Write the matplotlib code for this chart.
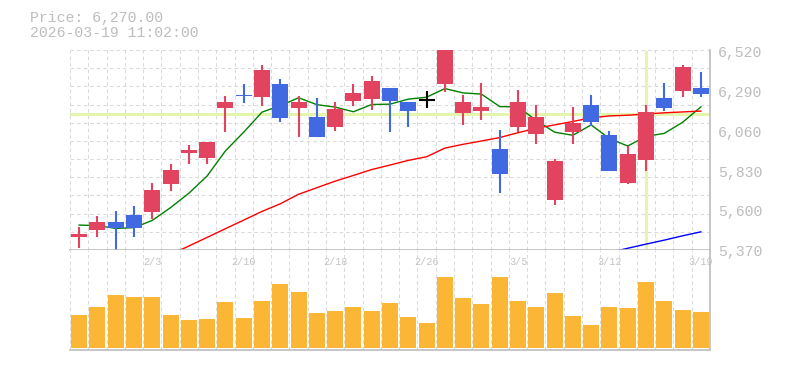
import numpy as np
import matplotlib
matplotlib.use('Agg')
import matplotlib.pyplot as plt
import matplotlib.transforms as mtransforms

# daily candles, 2026-01-28 .. 2026-03-19
dates = ['1/28', '1/29', '1/30', '2/2', '2/3', '2/4', '2/5', '2/6', '2/9', '2/10',
         '2/12', '2/13', '2/16', '2/17', '2/18', '2/19', '2/20', '2/24', '2/25', '2/26',
         '2/27', '3/2', '3/3', '3/4', '3/5', '3/6', '3/9', '3/10', '3/11', '3/12',
         '3/13', '3/16', '3/17', '3/18', '3/19']
opens = [5443, 5482, 5528, 5571, 5586, 5748, 5929, 5900, 6189, 6262,
         6253, 6326, 6189, 6135, 6079, 6228, 6239, 6303, 6222, 6234,
         6328, 6160, 6172, 5950, 6079, 6039, 5656, 6050, 6205, 6031,
         5756, 5889, 6245, 6287, 6303]
highs = [5498, 5563, 5592, 5621, 5756, 5864, 5974, 5991, 6257, 6326,
         6436, 6355, 6257, 6245, 6222, 6326, 6372, 6303, 6222, 6286,
         6523, 6262, 6332, 6060, 6291, 6205, 5893, 6193, 6262, 6054,
         5968, 6205, 6332, 6436, 6395]
lows = [5376, 5443, 5366, 5443, 5546, 5709, 5864, 5864, 6050, 6218,
        6199, 6108, 6021, 6021, 6056, 6199, 6176, 6050, 6079, 6187,
        6282, 6091, 6118, 5698, 6050, 5981, 5628, 5981, 6083, 5825,
        5750, 5825, 6172, 6253, 6253]
closes = [5459, 5528, 5495, 5495, 5713, 5829, 5945, 5991, 6222, 6255,
          6407, 6131, 6222, 6021, 6182, 6274, 6343, 6228, 6170, 6234,
          6523, 6222, 6193, 5808, 6222, 6135, 5883, 6102, 6108, 5825,
          5921, 6164, 6189, 6424, 6270]
# volume, thousand shares
volumes = [98, 122, 158, 152, 152, 98, 83, 86, 137, 89,
           140, 191, 167, 104, 110, 122, 110, 134, 92, 74,
           212, 149, 131, 212, 140, 122, 164, 95, 68, 122,
           119, 197, 140, 113, 107]

nan = np.nan
ma5 = [5511, 5508, 5492, 5496, 5538, 5612, 5695, 5795, 5940, 6048,
       6164, 6201, 6247, 6207, 6193, 6166, 6208, 6210, 6239, 6250,
       6300, 6275, 6268, 6196, 6194, 6116, 6048, 6030, 6090, 6011,
       5968, 6024, 6041, 6105, 6194]
ma25 = [nan, nan, nan, nan, nan, 5342, 5390, 5440, 5490, 5540,
        5590, 5634, 5689, 5727, 5765, 5798, 5832, 5858, 5885, 5906,
        5956, 5978, 5997, 6017, 6045, 6071, 6090, 6110, 6131, 6142,
        6146, 6153, 6160, 6165, 6170]
ma75 = [nan] * 29 + [5353, 5377, 5401, 5424, 5449, 5472]

price_ticks = [5370, 5600, 5830, 6060, 6290, 6520]
cursor_price = 6152
cursor_idx = 31
stamp = '2026-03-19 11:02:00'

UP = '#e2435f'
DOWN = '#4169e1'
GRID = '#dadada'
AXIS = '#bcbcbc'
TEXT = '#bdbdbd'
CROSS = '#e4f5ae'
FONT = 'Liberation Mono'

fig = plt.figure(figsize=(7.85, 3.7), dpi=100)
ax = fig.add_axes([70 / 785, 120 / 370, 640 / 785, 200 / 370])
axv = fig.add_axes([70 / 785, 20 / 370, 640 / 785, 100 / 370])

x = np.arange(len(dates))
lo, hi = 5367, 6523
for a in (ax, axv):
    a.set_xlim(-0.5, len(dates) - 0.5)
    a.set_xticks([])
    a.set_yticks([])
    for gx in np.arange(-0.5, len(dates)):
        a.axvline(gx, color=GRID, lw=0.75, ls=(0, (3.5, 2.8)), zorder=0)
    for s in ('top', 'left'):
        a.spines[s].set_visible(False)
    for s in ('right', 'bottom'):
        a.spines[s].set_color(AXIS)
        a.spines[s].set_linewidth(1.2)
        a.spines[s].set_zorder(5)

ax.set_ylim(lo, hi)
for f in np.linspace(0, 1, 12):
    ax.axhline(lo + f * (hi - lo), color=GRID, lw=0.75, ls=(0, (3.5, 2.8)), zorder=0)

# cursor crosshair
ax.axhline(cursor_price, color=CROSS, lw=2.2, zorder=1)
ax.axvline(cursor_idx, ymin=0.01, ymax=0.99, color=CROSS, lw=2.2, zorder=1)

# moving averages
ax.plot(x, ma5, color='#008000', lw=1.0, zorder=2, clip_on=False)
ax.plot(x, ma25, color='#ff0000', lw=1.0, zorder=2, clip_on=False)
ax.plot(x, ma75, color='#0000ff', lw=1.0, zorder=2, clip_on=False)

# candles
o = np.array(opens)
c = np.array(closes)
colors = np.where(c > o, UP, np.where(c < o, DOWN, 'black'))
ax.vlines(x, lows, highs, colors=colors, lw=1.5, zorder=3)
body = np.maximum(np.abs(c - o), 6)
ax.bar(x, body, bottom=np.minimum(o, c), width=0.875, color=colors, zorder=3)
doji = c == o
ax.hlines(o[doji], x[doji] - 0.44, x[doji] + 0.44, colors='black', lw=1.5, zorder=4)

# volume
axv.bar(x, volumes, width=0.875, color='#fcb635', zorder=2)
axv.set_ylim(-7, 293)

# date labels sit inside the volume panel
trv = mtransforms.blended_transform_factory(axv.transData, axv.transAxes)
for i in range(4, len(dates), 5):
    axv.text(i, 0.88, dates[i], transform=trv, ha='center', va='center',
             fontsize=7.3, color='#c4c4c4', family=FONT)

# price labels on the right
trp = mtransforms.offset_copy(
    mtransforms.blended_transform_factory(ax.transAxes, ax.transData),
    fig, x=8, y=-2.7, units='dots')
for v in price_ticks:
    ax.text(1, v, f'{v:,}', transform=trp, ha='left', va='center',
            fontsize=10.7, color=TEXT, family=FONT, clip_on=False)

fig.text(30 / 785, 1 - 18 / 370, f'Price: {closes[-1]:,.2f}', va='center',
         fontsize=10.7, color=TEXT, family=FONT)
fig.text(30 / 785, 1 - 33 / 370, stamp, va='center',
         fontsize=10.7, color=TEXT, family=FONT)

fig.savefig('out.png', dpi=100)
